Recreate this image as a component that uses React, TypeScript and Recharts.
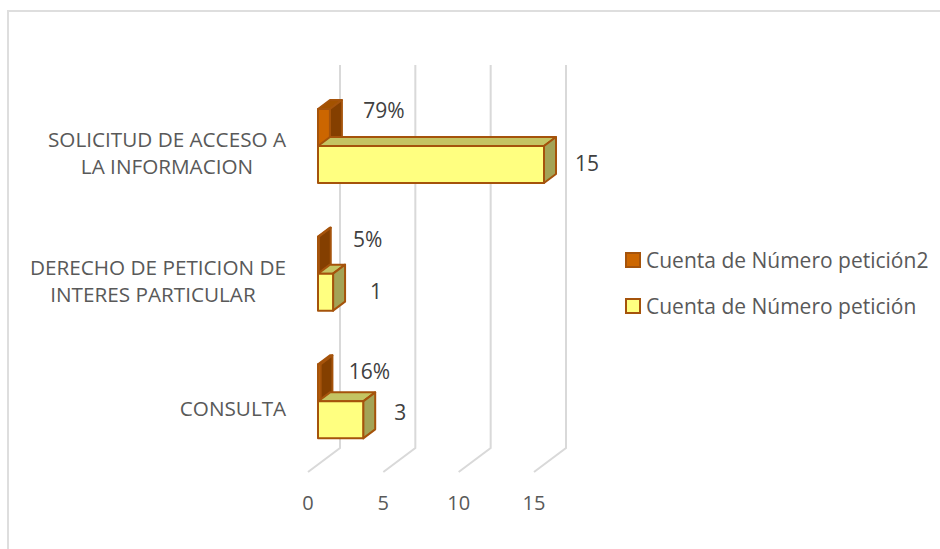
import { Bar, BarChart, CartesianGrid, LabelList, Legend, XAxis, YAxis } from 'recharts'

const categories = [
  ['SOLICITUD DE ACCESO A', 'LA INFORMACION'],
  ['DERECHO DE PETICION DE', 'INTERES PARTICULAR'],
  ['CONSULTA'],
]
const share = [0.79, 0.05, 0.16]
const shareLabels = ['79%', '5%', '16%']
const count = [15, 1, 3]
const xTicks = [0, 5, 10, 15]

const data = categories.map((lines, i) => ({
  name: lines.join(' '),
  share: share[i],
  count: count[i],
}))

const FONT = '"Open Sans", sans-serif'
const EDGE = '#A5530B'
const DX = 12
const DY = 9

// nudges for the data labels, measured from the end of each bar
const SHARE_NUDGE = [[54, -17], [49, -15], [49, -11]]
const COUNT_NUDGE = [[43, -1], [43, 0], [37, -7]]

// centre of each wrapped category label, the reference is not quite right aligned
const LINE_CENTRES = [[167, 167], [158, 153], [233]]

function Bar3D(props: any) {
  const { x, y, width, height, front, top, side } = props
  const r = x + width
  const b = y + height
  return (
    <g stroke={EDGE} strokeWidth={2} strokeLinejoin="round">
      <path d={`M${x} ${y}L${x + DX} ${y - DY}L${r + DX} ${y - DY}L${r} ${y}Z`} fill={top} />
      <path d={`M${r} ${y}L${r + DX} ${y - DY}L${r + DX} ${b - DY}L${r} ${b}Z`} fill={side} />
      <rect x={x} y={y} width={width} height={height} fill={front} />
    </g>
  )
}

// back wall line plus the slanted floor line of the 3D plot
function GridLine(props: any) {
  const { x1 } = props
  return <path d={`M${x1 + 22} 65V448L${x1 - 10} 472`} fill="none" stroke="#D9D9D9" strokeWidth={2} />
}

function ValueTick(props: any) {
  const { x, payload } = props
  return (
    <text x={x - 10} y={510} textAnchor="middle" fontFamily={FONT} fontSize={20} fill="#595959">
      {payload.value}
    </text>
  )
}

function CategoryTick(props: any) {
  const { y, index } = props
  const lines = categories[index]
  const start = y + 8 - ((lines.length - 1) * 27) / 2 + 7
  return (
    <text textAnchor="middle" fontFamily={FONT} fontSize={20.7} fill="#595959">
      {lines.map((line, i) => (
        <tspan key={line} x={LINE_CENTRES[index][i]} y={start + i * 27}>
          {line}
        </tspan>
      ))}
    </text>
  )
}

function makeLabel(nudge: number[][], text: (i: number) => string) {
  return function BarLabel(props: any) {
    const { x, y, width, height, index } = props
    return (
      <text
        x={x + width + nudge[index][0]}
        y={y + height / 2 + nudge[index][1] + 7}
        textAnchor="middle"
        fontFamily={FONT}
        fontSize={21}
        fill="#404040"
      >
        {text(index)}
      </text>
    )
  }
}

function LegendBox({ payload }: any) {
  return (
    <div style={{ fontFamily: FONT, fontSize: 21, color: '#595959' }}>
      {payload.map((p: any) => (
        <div key={p.value} style={{ display: 'flex', alignItems: 'center', height: 46, whiteSpace: 'nowrap' }}>
          <span
            style={{
              width: 12,
              height: 12,
              marginRight: 5,
              background: p.color,
              border: `2px solid ${EDGE}`,
            }}
          />
          {p.value}
        </div>
      ))}
    </div>
  )
}

export default function App() {
  return (
    <div style={{ position: 'absolute', left: 0, top: 0, width: 940, height: 549, background: '#fff', overflow: 'hidden' }}>
      <div style={{ position: 'absolute', left: 7, top: 10, width: 940, height: 560, border: '2px solid #DEDEDE' }} />
      <div style={{ position: 'absolute', left: 0, top: 0 }}>
        <BarChart
          width={940}
          height={549}
          layout="vertical"
          data={data}
          margin={{ top: 82, bottom: 83, left: 317, right: 396 }}
          barGap={0}
          barCategoryGap={27}
        >
          <CartesianGrid horizontal={false} vertical={(p: any) => <GridLine key={p.index} {...p} />} />
          <XAxis type="number" domain={[0, 15]} ticks={xTicks} axisLine={false} tickLine={false} height={1} tick={<ValueTick />} interval={0} />
          <YAxis type="category" dataKey="name" width={1} axisLine={false} tickLine={false} tick={<CategoryTick />} interval={0} />
          <Legend
            layout="vertical"
            align="center"
            verticalAlign="middle"
            itemSorter={null}
            wrapperStyle={{ left: 625, top: 237, width: 315 }}
            content={<LegendBox />}
          />
          <Bar
            dataKey="share"
            name="Cuenta de Número petición2"
            fill="#CC6600"
            isAnimationActive={false}
            shape={(p: any) => <Bar3D {...p} front="#CC6600" top="#A35200" side="#843F00" />}
          >
            <LabelList content={makeLabel(SHARE_NUDGE, (i) => shareLabels[i])} />
          </Bar>
          <Bar
            dataKey="count"
            name="Cuenta de Número petición"
            fill="#FFFF80"
            isAnimationActive={false}
            shape={(p: any) => <Bar3D {...p} front="#FFFF80" top="#C4C462" side="#A3A356" />}
          >
            <LabelList content={makeLabel(COUNT_NUDGE, (i) => String(count[i]))} />
          </Bar>
        </BarChart>
      </div>
    </div>
  )
}
